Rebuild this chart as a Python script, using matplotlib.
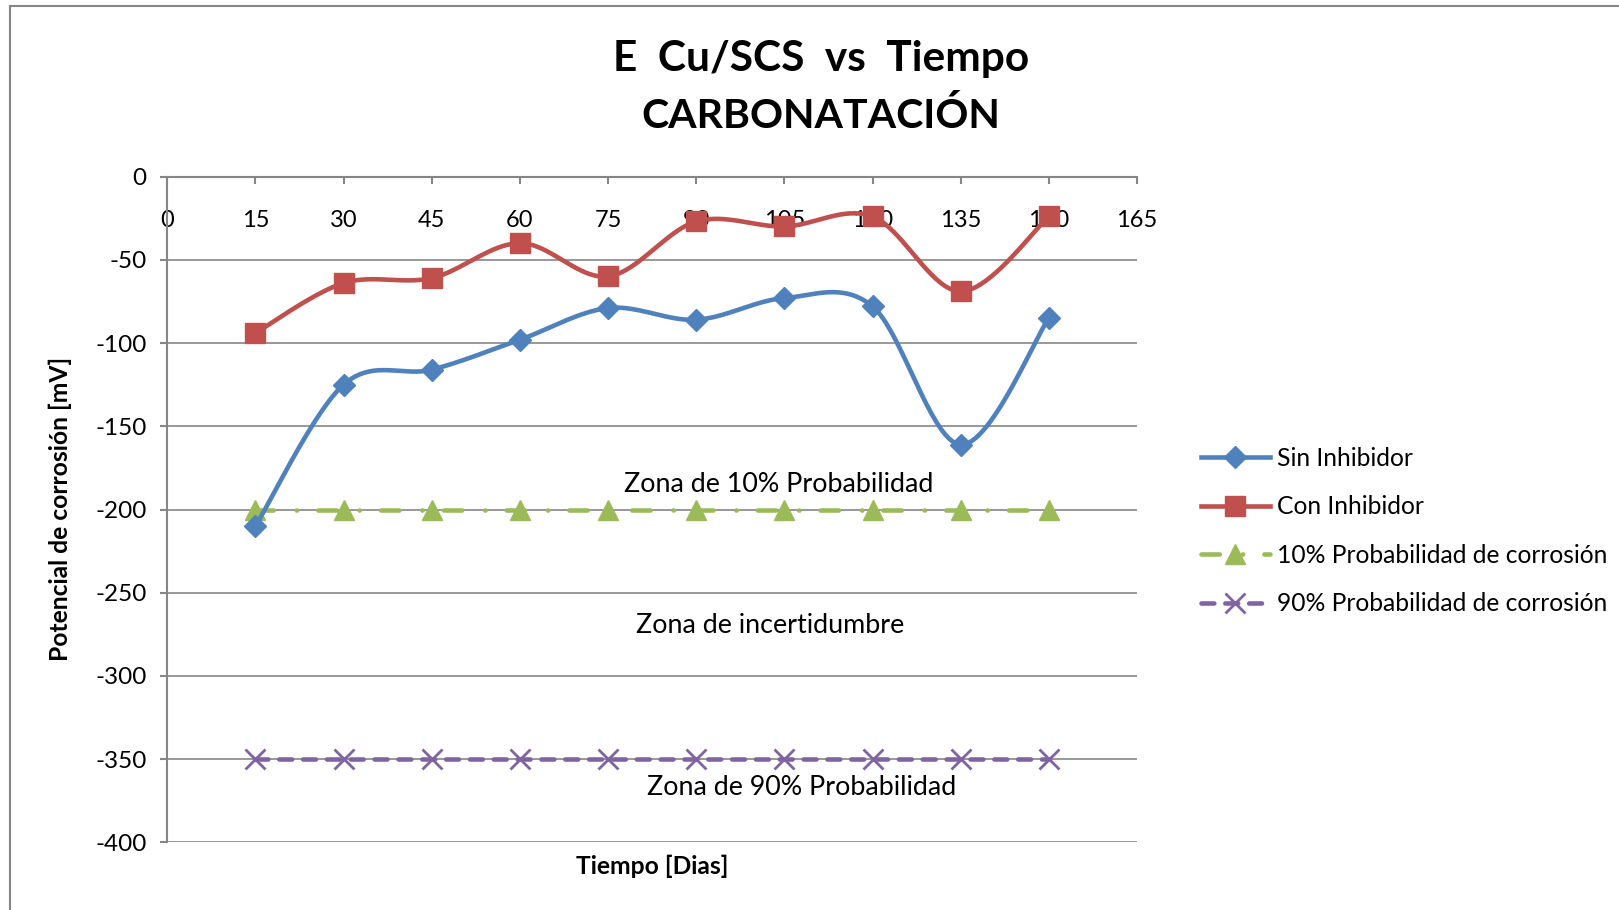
#!/usr/bin/env python3
# -*- coding: utf-8 -*-

import numpy as np
import matplotlib
matplotlib.use("Agg")
import matplotlib.pyplot as plt
from matplotlib.lines import Line2D
from matplotlib.patches import Rectangle

plt.rcParams['font.family'] = ['Lato', 'DejaVu Sans']

dias = [15, 30, 45, 60, 75, 90, 105, 120, 135, 150]
sin_inhibidor = [-210, -125, -116, -98, -79, -86, -73, -78, -161, -85]
con_inhibidor = [-94, -64, -61, -40, -60, -27, -30, -24, -69, -24]
prob_10 = [-200] * 10
prob_90 = [-350] * 10

xticks = [0, 15, 30, 45, 60, 75, 90, 105, 120, 135, 150, 165]
yticks = [0, -50, -100, -150, -200, -250, -300, -350, -400]

azul = "#4F81BD"
rojo = "#C0504D"
verde = "#9BBB59"
morado = "#8064A2"
gris = "#868686"


def suavizar(x, y, n=40):
  # curva tipo Excel (bezier con puntos de control catmull-rom)
  x = np.asarray(x, float)
  y = np.asarray(y, float)
  px = np.concatenate([[x[0]], x, [x[-1]]])
  py = np.concatenate([[y[0]], y, [y[-1]]])
  t = np.linspace(0, 1, n)
  xs, ys = [], []
  for i in range(len(x) - 1):
    p0 = np.array([px[i + 1], py[i + 1]])
    p3 = np.array([px[i + 2], py[i + 2]])
    c1 = p0 + (p3 - np.array([px[i], py[i]])) / 6
    c2 = p3 - (np.array([px[i + 3], py[i + 3]]) - p0) / 6
    pts = ((1 - t) ** 3)[:, None] * p0 + (3 * (1 - t) ** 2 * t)[:, None] * c1 \
        + (3 * (1 - t) * t ** 2)[:, None] * c2 + (t ** 3)[:, None] * p3
    xs.extend(pts[:, 0])
    ys.extend(pts[:, 1])
  return xs, ys


fig = plt.figure(figsize=(16.19, 9.10), dpi=100)
ax = fig.add_axes([0.1033, 0.0742, 0.7023 - 0.1033, 0.806 - 0.0742])

fig.patches.append(Rectangle((10 / 1619, -0.1), 1.2, 1.1 - 6 / 910,
                             transform=fig.transFigure, fill=False,
                             edgecolor=gris, linewidth=1.5))

for v in yticks:
  ax.axhline(v, color=gris, linewidth=1.2, zorder=1)

lw = 3.3
sx, sy = suavizar(dias, sin_inhibidor)
ax.plot(sx, sy, color=azul, linewidth=lw, zorder=3)
ax.plot(dias, sin_inhibidor, linestyle='none', marker='D', markersize=11.5,
        color=azul, zorder=4)

cx, cy = suavizar(dias, con_inhibidor)
ax.plot(cx, cy, color=rojo, linewidth=lw, zorder=3)
ax.plot(dias, con_inhibidor, linestyle='none', marker='s', markersize=14,
        color=rojo, zorder=4)

estilo10 = (0, (4.0, 5.0, 0.1, 4.6))
estilo90 = (0, (2.8, 2.4))
ax.plot(dias, prob_10, color=verde, linewidth=lw, linestyle=estilo10,
        dash_capstyle='round', marker='^', markersize=14.5, zorder=2)
ax.plot(dias, prob_90, color=morado, linewidth=lw, linestyle=estilo90,
        dash_capstyle='round', marker='x', markersize=14, markeredgewidth=2,
        zorder=2)

ax.set_xlim(0, 165)
ax.set_ylim(-400, 0)
ax.set_xticks(xticks)
ax.set_yticks(yticks)
ax.set_yticklabels([str(v) for v in yticks])

for s in ['right', 'bottom']:
  ax.spines[s].set_visible(False)
for s in ['left', 'top']:
  ax.spines[s].set_color(gris)
  ax.spines[s].set_linewidth(1.5)

ax.tick_params(axis='x', top=True, labeltop=True, bottom=False,
               labelbottom=False, direction='in', length=5, width=1.5,
               color=gris, pad=-39, labelsize=17)
ax.tick_params(axis='y', direction='out', length=5, width=1.5, color=gris,
               pad=10, labelsize=17.5)

ax.text(104, -185, "Zona de 10% Probabilidad", ha='center', va='center',
        fontsize=19.4)
ax.text(102.6, -269.5, "Zona de incertidumbre", ha='center', va='center',
        fontsize=19.4)
ax.text(108, -367, "Zona de 90% Probabilidad", ha='center', va='center',
        fontsize=19.4)

fig.text(0.507, 1 - 59 / 910, "E  Cu/SCS  vs  Tiempo", ha='center',
         va='center', fontsize=30.5, fontweight='bold')
fig.text(0.507, 1 - 116 / 910, "CARBONATACIÓN", ha='center', va='center',
         fontsize=29.5, fontweight='bold')
fig.text(60 / 1619, 1 - 509 / 910, "Potencial de corrosión [mV]",
         rotation=90, ha='center', va='center', fontsize=17.7,
         fontweight='bold')
fig.text(652 / 1619, 1 - 866 / 910, "Tiempo [Dias]", ha='center',
         va='center', fontsize=17.7, fontweight='bold')

handles = [
  Line2D([], [], color=azul, linewidth=lw, marker='D', markersize=11.5),
  Line2D([], [], color=rojo, linewidth=lw, marker='s', markersize=14),
  Line2D([], [], color=verde, linewidth=lw, linestyle=estilo10,
         dash_capstyle='round', marker='^', markersize=14.5),
  Line2D([], [], color=morado, linewidth=lw, linestyle=estilo90,
         dash_capstyle='round', marker='x', markersize=14,
         markeredgewidth=2),
]
etiquetas = ["Sin Inhibidor", "Con Inhibidor",
             "10% Probabilidad de corrosión", "90% Probabilidad de corrosión"]
fig.legend(handles, etiquetas, loc='center left',
           bbox_to_anchor=(1201 / 1619, 1 - 531 / 910), frameon=False,
           fontsize=17.7, handlelength=2.8, handletextpad=0.29,
           labelspacing=1.04, numpoints=1, borderpad=0, borderaxespad=0)

fig.savefig("out.png", dpi=100)
plt.close(fig)
